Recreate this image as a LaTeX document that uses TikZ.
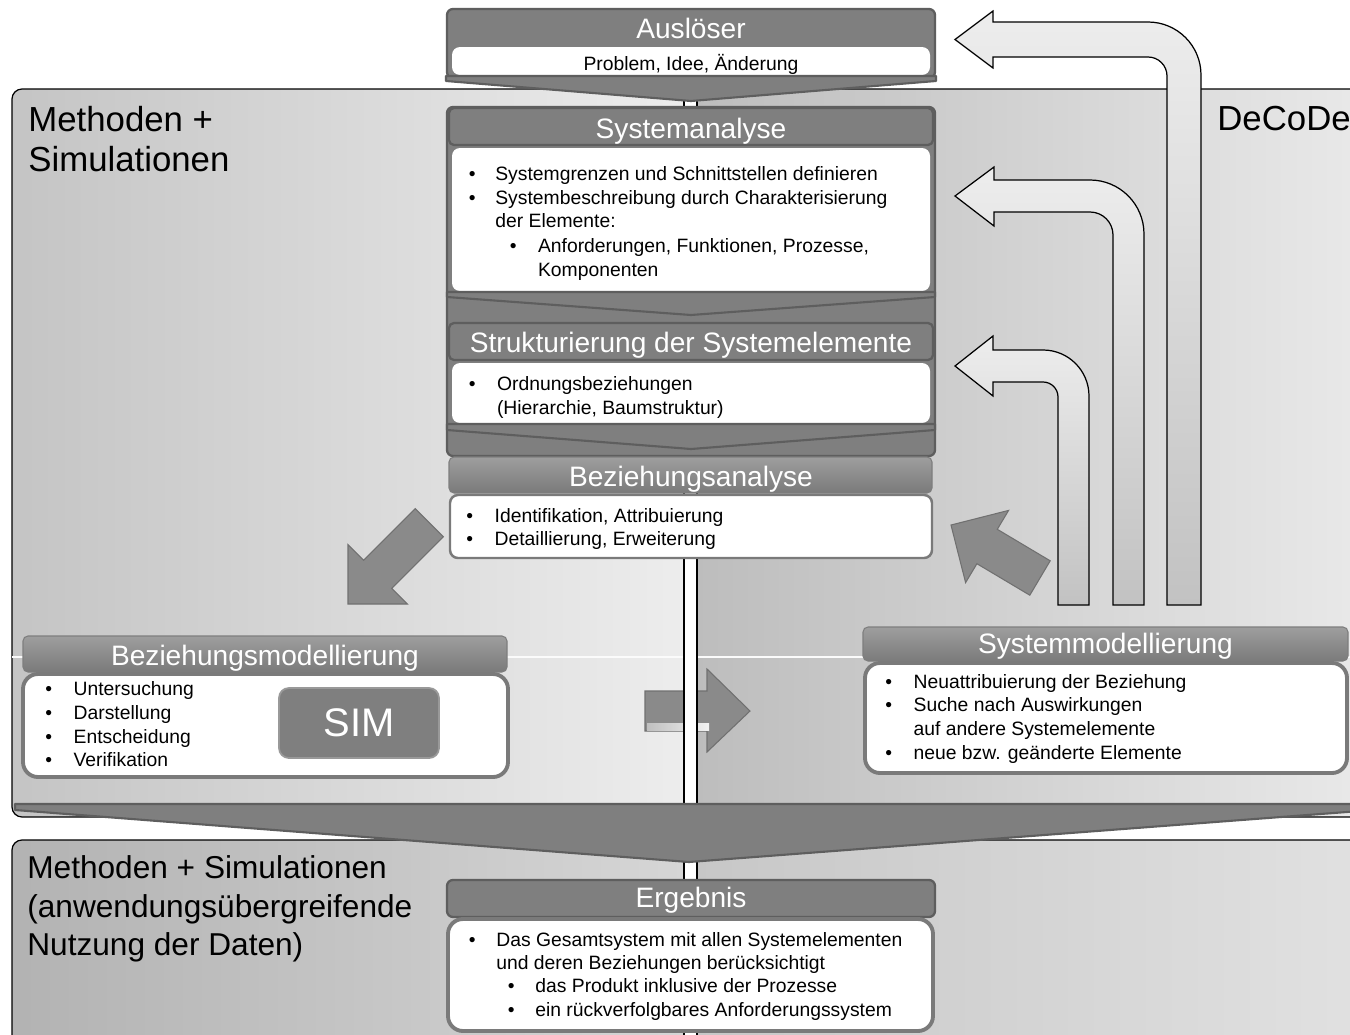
\documentclass[tikz,border=0pt]{standalone}
\usepackage{fontspec}
\setmainfont{Liberation Sans}
\definecolor{barc}{HTML}{7F7F7F}
\definecolor{barline}{HTML}{5E5E5E}
\definecolor{boxline}{HTML}{7A7A7A}
\definecolor{uatop}{HTML}{EDEDED}
\definecolor{uabot}{HTML}{C2C2C2}
\definecolor{blk}{HTML}{8A8A8A}
\definecolor{blkline}{HTML}{707070}
\begin{document}
\begin{tikzpicture}[x=0.02cm,y=-0.02cm,
  ttl/.style={anchor=base,text=white,inner sep=0pt,font=\fontsize{16}{18}\selectfont},
  body/.style={anchor=base west,inner sep=0pt,font=\fontsize{11}{13}\selectfont},
  big/.style={anchor=base west,inner sep=0pt,font=\fontsize{19.8}{23}\selectfont},
  bigb/.style={anchor=base west,inner sep=0pt,font=\fontsize{18}{22}\selectfont},
  barbox/.style={fill=barc,draw=barline,line width=1.3pt,rounded corners=0.12cm},
  barout/.style={draw=barline,line width=1.3pt,rounded corners=0.1cm},
  plainwhite/.style={fill=white,rounded corners=0.16cm},
  whitebox/.style={fill=white,draw=boxline,line width=1.4pt,rounded corners=0.16cm},
  roundwhite/.style={fill=white,draw=boxline,line width=2.2pt,rounded corners=0.3cm},
  shadebar/.style={draw=barline!80,line width=0.6pt,rounded corners=0.1cm,top color=black!38,bottom color=black!52},
  chev/.style={fill=barc,draw=barline,line width=1.2pt,line join=round},
  uarrow/.style={draw=black,line width=0.7pt,top color=uatop,bottom color=uabot},
  blockarrow/.style={fill=blk,draw=blkline,line width=0.6pt,line join=miter}
]
\useasboundingbox (0,0) rectangle (1350,1035);
\clip (0,0) rectangle (1350,1035);
\fill[white] (0,0) rectangle (1350,1035);

% main panel
\begin{scope}
\clip[rounded corners=0.2cm] (12,89) rectangle (1400,817);
\shade[left color=black!23, right color=black!7] (12,89) rectangle (690,817);
\shade[left color=black!26, right color=black!9] (690,89) rectangle (1350,817);
\end{scope}
\draw[black,line width=0.7pt,rounded corners=0.2cm] (12,89) rectangle (1400,817);
\draw[white!85!black!10,line width=0.6pt] (12,657) -- (1350,657);

% bottom panel
\begin{scope}
\clip[rounded corners=0.2cm] (12,840) rectangle (1400,1100);
\shade[left color=black!30, right color=black!16] (12,840) rectangle (690,1035);
\shade[left color=black!22, right color=black!12] (690,840) rectangle (1350,1035);
\end{scope}
\draw[black,line width=0.7pt,rounded corners=0.2cm] (12,840) rectangle (1400,1100);

% horizontal block arrow
\path[blockarrow] (645,691) -- (707,691) -- (707,669) -- (750,711) -- (707,752) -- (707,731) -- (645,731) -- cycle;
\shade[left color=black!25,right color=black!5] (647,723) rectangle (709,730);

% divider
\draw[fill=white,line width=0.6pt] (684,95) rectangle (697,1045);

% big chevron
\draw[chev] (15,804) -- (1360,804) -- (1360,811) -- (689,862) -- (15,810) -- cycle;

% Ausloeser block
\draw[barbox] (447,9) rectangle (935,78);
\fill[plainwhite] (452,47) rectangle (930,75);
\draw[chev] (446,76) -- (936,76) -- (936,81) -- (691,101) -- (446,81) -- cycle;

% Systemanalyse + Strukturierung block
\draw[barbox] (447,107) rectangle (935,456);
\draw[barout] (449,108) rectangle (933,145);
\fill[plainwhite] (452,148) rectangle (930,291);
\draw[chev] (447,292) -- (935,292) -- (935,297) -- (691,315) -- (447,297) -- cycle;
\draw[barout] (449,323) rectangle (933,360);
\fill[plainwhite] (452,363) rectangle (930,423);
\draw[chev] (447,424) -- (935,424) -- (935,430) -- (691,449) -- (447,430) -- cycle;

% Beziehungsanalyse
\path[shadebar] (449,457) rectangle (932,493);
\draw[whitebox] (450,495) rectangle (932,558);

% Beziehungsmodellierung
\path[shadebar] (23,636) rectangle (507,672);
\draw[roundwhite] (23,674) rectangle (508,777);
\draw[fill=barc,draw=black!40,line width=1pt,rounded corners=0.2cm] (279,688) rectangle (439,758);

% Systemmodellierung
\path[shadebar] (863,627) rectangle (1348,661);
\draw[roundwhite] (865,663) rectangle (1347,773);

% Ergebnis
\draw[barbox] (447,880) rectangle (935,917);
\draw[roundwhite] (448,919) rectangle (933,1031);

% diagonal block arrows
\path[blockarrow] (348,604) -- (407.4,604) -- (391.8,588.4) -- (443.4,536.8) -- (415.2,508.6) -- (363.6,560.2) -- (348,544.6) -- cycle;
\path[blockarrow] (951,525) -- (1008.6,510.4) -- (997.3,529.3) -- (1050.2,560.8) -- (1029.8,595.2) -- (976.9,563.7) -- (965.6,582.6) -- cycle;

% U-turn arrows
\path[uarrow] (1167,605) -- (1167,76) .. controls (1167,65.5) and (1158.5,57) .. (1148,57) -- (993,57) -- (993,68) -- (955,39.5) -- (993,11) -- (993,22) -- (1148,22) .. controls (1177.3,22) and (1201,45.7) .. (1201,75) -- (1201,605) -- cycle;
\path[uarrow] (1113,605) -- (1113,235) .. controls (1113,222.3) and (1102.7,212) .. (1090,212) -- (994,212) -- (994,226) -- (955,196) -- (994,167) -- (994,180) -- (1090,180) .. controls (1119.8,180) and (1144,204.2) .. (1144,234) -- (1144,605) -- cycle;
\path[uarrow] (1058,605) -- (1058,397) .. controls (1058,388.7) and (1051.3,382) .. (1043,382) -- (993,382) -- (993,396) -- (955,366) -- (993,336) -- (993,350) -- (1043,350) .. controls (1068.4,350) and (1089,370.6) .. (1089,396) -- (1089,605) -- cycle;

% big texts
\node[big] (meth1) at (28,131.7) {Methoden +};
\node[big] (meth2) at (28,171.7) {Simulationen};
\node[big] (decode) at (1217,130.7) {DeCoDe};
\node[bigb] (bot1) at (27,878.5) {Methoden + Simulationen};
\node[bigb] (bot2) at (27,917) {(anwendungsübergreifende};
\node[bigb] (bot3) at (27,955) {Nutzung der Daten)};

% titles
\node[ttl] (tAusl) at (691,38.5) {Auslöser};
\node[ttl] (tSysA) at (691,138) {Systemanalyse};
\node[ttl] (tStruk) at (691,352) {Strukturierung der Systemelemente};
\node[ttl] (tBezA) at (691,486) {Beziehungsanalyse};
\node[ttl] (tBezM) at (265,665) {Beziehungsmodellierung};
\node[ttl] (tSysM) at (1105.5,653) {Systemmodellierung};
\node[ttl] (tErg) at (691,907) {Ergebnis};
\node[anchor=base,text=white,inner sep=0pt,font=\fontsize{22.7}{26}\selectfont] (sim) at (359,736.7) {SIM};

% body texts
\node[body,anchor=base] (probl) at (691,70) {Problem, Idee, Änderung};

\node[body] (sa1b) at (468.4,180.7) {•};
\node[body] (sa1) at (495,180.7) {Systemgrenzen und Schnittstellen definieren};
\node[body] (sa2b) at (468.4,204) {•};
\node[body] (sa2) at (495,204) {Systembeschreibung durch Charakterisierung};
\node[body] (sa3) at (495,227.3) {der Elemente:};
\node[body] (sa4b) at (509.4,252.7) {•};
\node[body] (sa4) at (537.7,252.7) {Anforderungen, Funktionen, Prozesse,};
\node[body] (sa5) at (537.7,276) {Komponenten};

\node[body] (st1b) at (468.4,390.7) {•};
\node[body] (st1) at (496.7,390.7) {Ordnungsbeziehungen};
\node[body] (st2) at (496.7,414) {(Hierarchie, Baumstruktur)};

\node[body] (ba1b) at (466,522.7) {•};
\node[body] (ba1) at (494.3,522.7) {Identifikation, Attribuierung};
\node[body] (ba2b) at (466,545) {•};
\node[body] (ba2) at (494.3,545) {Detaillierung, Erweiterung};

\node[body] (bm1b) at (45,695) {•};
\node[body] (bm1) at (73.3,695) {Untersuchung};
\node[body] (bm2b) at (45,719.3) {•};
\node[body] (bm2) at (73.3,719.3) {Darstellung};
\node[body] (bm3b) at (45,743.3) {•};
\node[body] (bm3) at (73.3,743.3) {Entscheidung};
\node[body] (bm4b) at (45,766.7) {•};
\node[body] (bm4) at (73.3,766.7) {Verifikation};

\node[body] (sm1b) at (885,688.3) {•};
\node[body] (sm1) at (913.3,688.3) {Neuattribuierung der Beziehung};
\node[body] (sm2b) at (885,711.7) {•};
\node[body] (sm2) at (913.3,711.7) {Suche nach Auswirkungen};
\node[body] (sm3) at (913.3,735) {auf andere Systemelemente};
\node[body] (sm4b) at (885,759.3) {•};
\node[body] (sm4) at (913.3,759.3) {neue bzw. geänderte Elemente};

\node[body] (er1b) at (468.4,946) {•};
\node[body] (er1) at (496,946) {Das Gesamtsystem mit allen Systemelementen};
\node[body] (er2) at (496,969.3) {und deren Beziehungen berücksichtigt};
\node[body] (er3b) at (507.4,992.7) {•};
\node[body] (er3) at (535,992.7) {das Produkt inklusive der Prozesse};
\node[body] (er4b) at (507.4,1016) {•};
\node[body] (er4) at (535,1016) {ein rückverfolgbares Anforderungssystem};
\end{tikzpicture}
\end{document}
